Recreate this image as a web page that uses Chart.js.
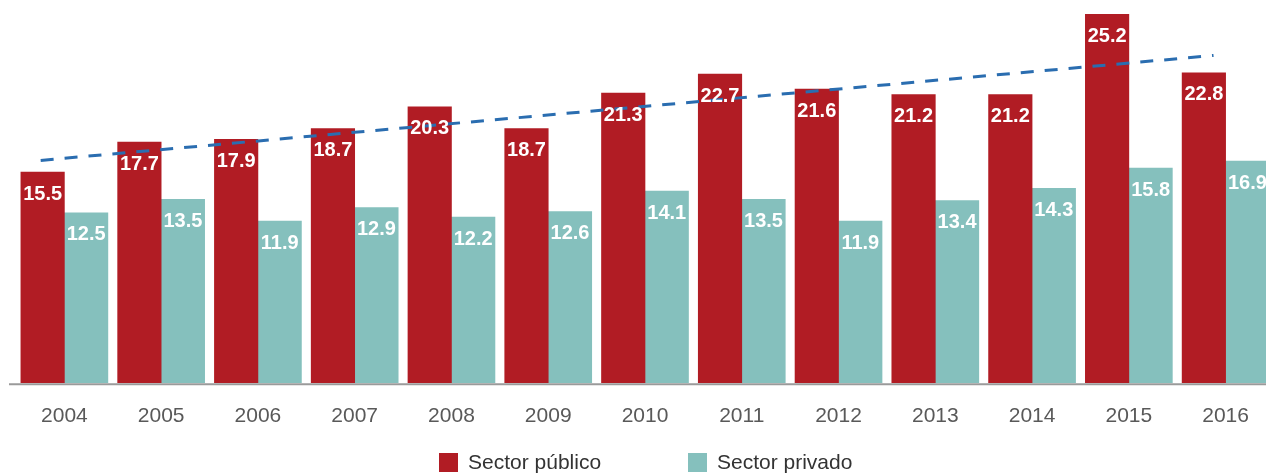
<!DOCTYPE html>
<html>
<head>
<meta charset="utf-8">
<script src="https://cdn.jsdelivr.net/npm/chart.js@4"></script>
<style>
  html, body { margin: 0; padding: 0; background: #fff; overflow: hidden; }
  canvas { display: block; }
</style>
</head>
<body>
<canvas id="chart" width="1290" height="474"></canvas>
<script>
// Categories and values
const years = ['2004', '2005', '2006', '2007', '2008', '2009', '2010', '2011', '2012', '2013', '2014', '2015', '2016'];

// printed labels
const publicLabels = ['15.5', '17.7', '17.9', '18.7', '20.3', '18.7', '21.3', '22.7', '21.6', '21.2', '21.2', '25.2', '22.8'];
const privateLabels = ['12.5', '13.5', '11.9', '12.9', '12.2', '12.6', '14.1', '13.5', '11.9', '13.4', '14.3', '15.8', '16.9'];

// bar heights as drawn (2015 public and 2016 private bars don't match their printed labels)
const publicValues = [15.5, 17.7, 17.9, 18.7, 20.3, 18.7, 21.3, 22.7, 21.6, 21.2, 21.2, 27.1, 22.8];
const privateValues = [12.5, 13.5, 11.9, 12.9, 12.2, 12.6, 14.1, 13.5, 11.9, 13.4, 14.3, 15.8, 16.3];

// dashed trend line end points (x in category index units)
const trendPoints = [{ x: -0.245, y: 16.36 }, { x: 11.875, y: 24.07 }];

const RED = '#B11C24';
const TEAL = '#85C0BD';
const FONT = '"Liberation Sans", Arial, sans-serif';

const barLabels = {
    id: 'barLabels',
    afterDatasetsDraw(chart) {
        const ctx = chart.ctx;
        ctx.save();
        ctx.fillStyle = '#fff';
        ctx.font = 'bold 20px ' + FONT;
        ctx.textAlign = 'center';
        ctx.textBaseline = 'middle';
        chart.data.datasets.forEach(function (ds, i) {
            if (!ds.valueLabels) return;
            chart.getDatasetMeta(i).data.forEach(function (bar, j) {
                ctx.fillText(ds.valueLabels[j], bar.x, bar.y + 22);
            });
        });
        ctx.restore();
    }
};

const baseLine = {
    id: 'baseLine',
    afterDatasetsDraw(chart) {
        const ctx = chart.ctx;
        const y = chart.chartArea.bottom + 1.3;
        ctx.save();
        ctx.strokeStyle = '#9a9a9a';
        ctx.lineWidth = 2;
        ctx.beginPath();
        ctx.moveTo(9, y);
        ctx.lineTo(chart.width, y);
        ctx.stroke();
        ctx.restore();
    }
};

const bottomLegend = {
    id: 'bottomLegend',
    afterDraw(chart) {
        const ctx = chart.ctx;
        const items = chart.data.datasets.filter(function (ds) { return ds.type !== 'line'; });
        const starts = [439, 688];
        ctx.save();
        ctx.font = '21px ' + FONT;
        ctx.textBaseline = 'middle';
        items.forEach(function (ds, i) {
            ctx.fillStyle = ds.backgroundColor;
            ctx.fillRect(starts[i], 453, 19, 19);
            ctx.fillStyle = '#333';
            ctx.fillText(ds.label, starts[i] + 29, 463);
        });
        ctx.restore();
    }
};

new Chart(document.getElementById('chart'), {
    type: 'bar',
    data: {
        labels: years,
        datasets: [
            {
                type: 'line',
                label: 'Tendencia',
                data: trendPoints,
                xAxisID: 'xt',
                borderColor: '#2A6DB0',
                borderWidth: 3,
                borderDash: [13, 11],
                pointRadius: 0,
                fill: false,
                order: 0
            },
            {
                label: 'Sector público',
                data: publicValues,
                valueLabels: publicLabels,
                backgroundColor: RED,
                barThickness: 43.5,
                order: 1
            },
            {
                label: 'Sector privado',
                data: privateValues,
                valueLabels: privateLabels,
                backgroundColor: TEAL,
                barThickness: 43.5,
                order: 1
            }
        ]
    },
    options: {
        responsive: false,
        animation: false,
        layout: {
            padding: { left: 16, right: 16, top: 2, bottom: 0 }
        },
        plugins: {
            legend: { display: false },
            tooltip: { enabled: false },
            title: { display: false }
        },
        scales: {
            x: {
                offset: true,
                grid: { display: false, drawTicks: false },
                border: { display: false },
                ticks: {
                    color: '#595959',
                    font: { family: FONT, size: 21 },
                    padding: 21,
                    maxRotation: 0
                },
                afterFit: function (scale) { scale.height = 91; }
            },
            xt: {
                type: 'linear',
                display: false,
                min: -0.5,
                max: 12.5,
                offset: false
            },
            y: {
                display: false,
                min: 0,
                max: 28,
                grid: { display: false }
            }
        }
    },
    plugins: [baseLine, barLabels, bottomLegend]
});
</script>
</body>
</html>
